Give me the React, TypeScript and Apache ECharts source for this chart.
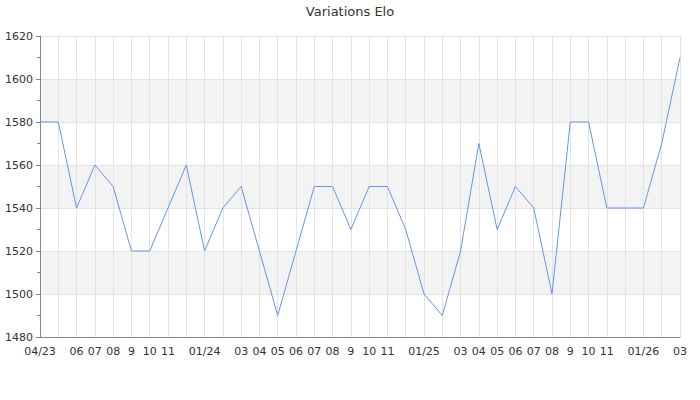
import React, { useEffect, useRef } from "react";
import * as echarts from "echarts";

const categories: string[] = [
  "04/23", "05", "06", "07", "08", "9", "10", "11", "12",
  "01/24", "02", "03", "04", "05", "06", "07", "08", "9", "10", "11", "12",
  "01/25", "02", "03", "04", "05", "06", "07", "08", "9", "10", "11", "12",
  "01/26", "02", "03",
];

const eloValues: number[] = [
  1580, 1580, 1540, 1560, 1550, 1520, 1520, 1540, 1560,
  1520, 1540, 1550, 1520, 1490, 1520, 1550, 1550, 1530, 1550, 1550, 1530,
  1500, 1490, 1520, 1570, 1530, 1550, 1540, 1500, 1580, 1580, 1540, 1540,
  1540, 1570, 1610,
];

const yTicks = { min: 1480, max: 1620, interval: 20 };
const chartTitle = "Variations Elo";

export default function App() {
  const ref = useRef<HTMLDivElement>(null);
  useEffect(() => {
    if (!ref.current) return;
    const chart = echarts.init(ref.current, null, { renderer: "svg" });
    const font = "DejaVu Sans";
    const showLabel = (idx: number) => {
      if (idx === 1) return false;
      const next = categories[idx + 1];
      const prev = categories[idx - 1];
      if (categories[idx].includes("/")) return true;
      if (next && next.includes("/")) return false;
      if (prev && prev.includes("/")) return false;
      return true;
    };
    chart.setOption({
      animation: false,
      backgroundColor: "#fff",
      title: {
        text: chartTitle,
        left: "center",
        top: 0,
        textStyle: { fontFamily: font, fontSize: 13, fontWeight: "normal", color: "#333" },
      },
      grid: { left: 40, right: 20, top: 36, bottom: 63, containLabel: false },
      xAxis: {
        type: "category",
        data: categories,
        boundaryGap: false,
        axisLine: { lineStyle: { color: "#888" } },
        axisTick: { show: false },
        axisLabel: {
          interval: (idx: number) => showLabel(idx),
          fontFamily: font,
          fontSize: 11,
          color: "#333",
          margin: 9,
        },
        splitLine: { show: true, interval: 0, lineStyle: { color: "#e3e3e3", width: 1 } },
      },
      yAxis: {
        type: "value",
        min: yTicks.min,
        max: yTicks.max,
        interval: yTicks.interval,
        axisLine: { show: true, lineStyle: { color: "#888" } },
        axisTick: { show: true, length: 4, lineStyle: { color: "#888" } },
        minorTick: { show: true, splitNumber: 2, length: 3, lineStyle: { color: "#888" } },
        axisLabel: {
          fontFamily: font,
          fontSize: 11,
          color: "#333",
          margin: 7,
          formatter: (v: number) => String(v),
        },
        splitLine: { show: true, lineStyle: { color: "#e3e3e3", width: 1 } },
        splitArea: { show: true, areaStyle: { color: ["rgba(255,255,255,0)", "#f3f3f3"] } },
      },
      series: [
        {
          type: "line",
          data: eloValues,
          showSymbol: false,
          symbol: "none",
          lineStyle: { color: "#6495ed", width: 1 },
          itemStyle: { color: "#6495ed" },
        },
      ],
    });
    return () => chart.dispose();
  }, []);
  return (
    <div
      ref={ref}
      style={{ position: "fixed", left: 0, top: 0, width: 700, height: 400 }}
    />
  );
}
